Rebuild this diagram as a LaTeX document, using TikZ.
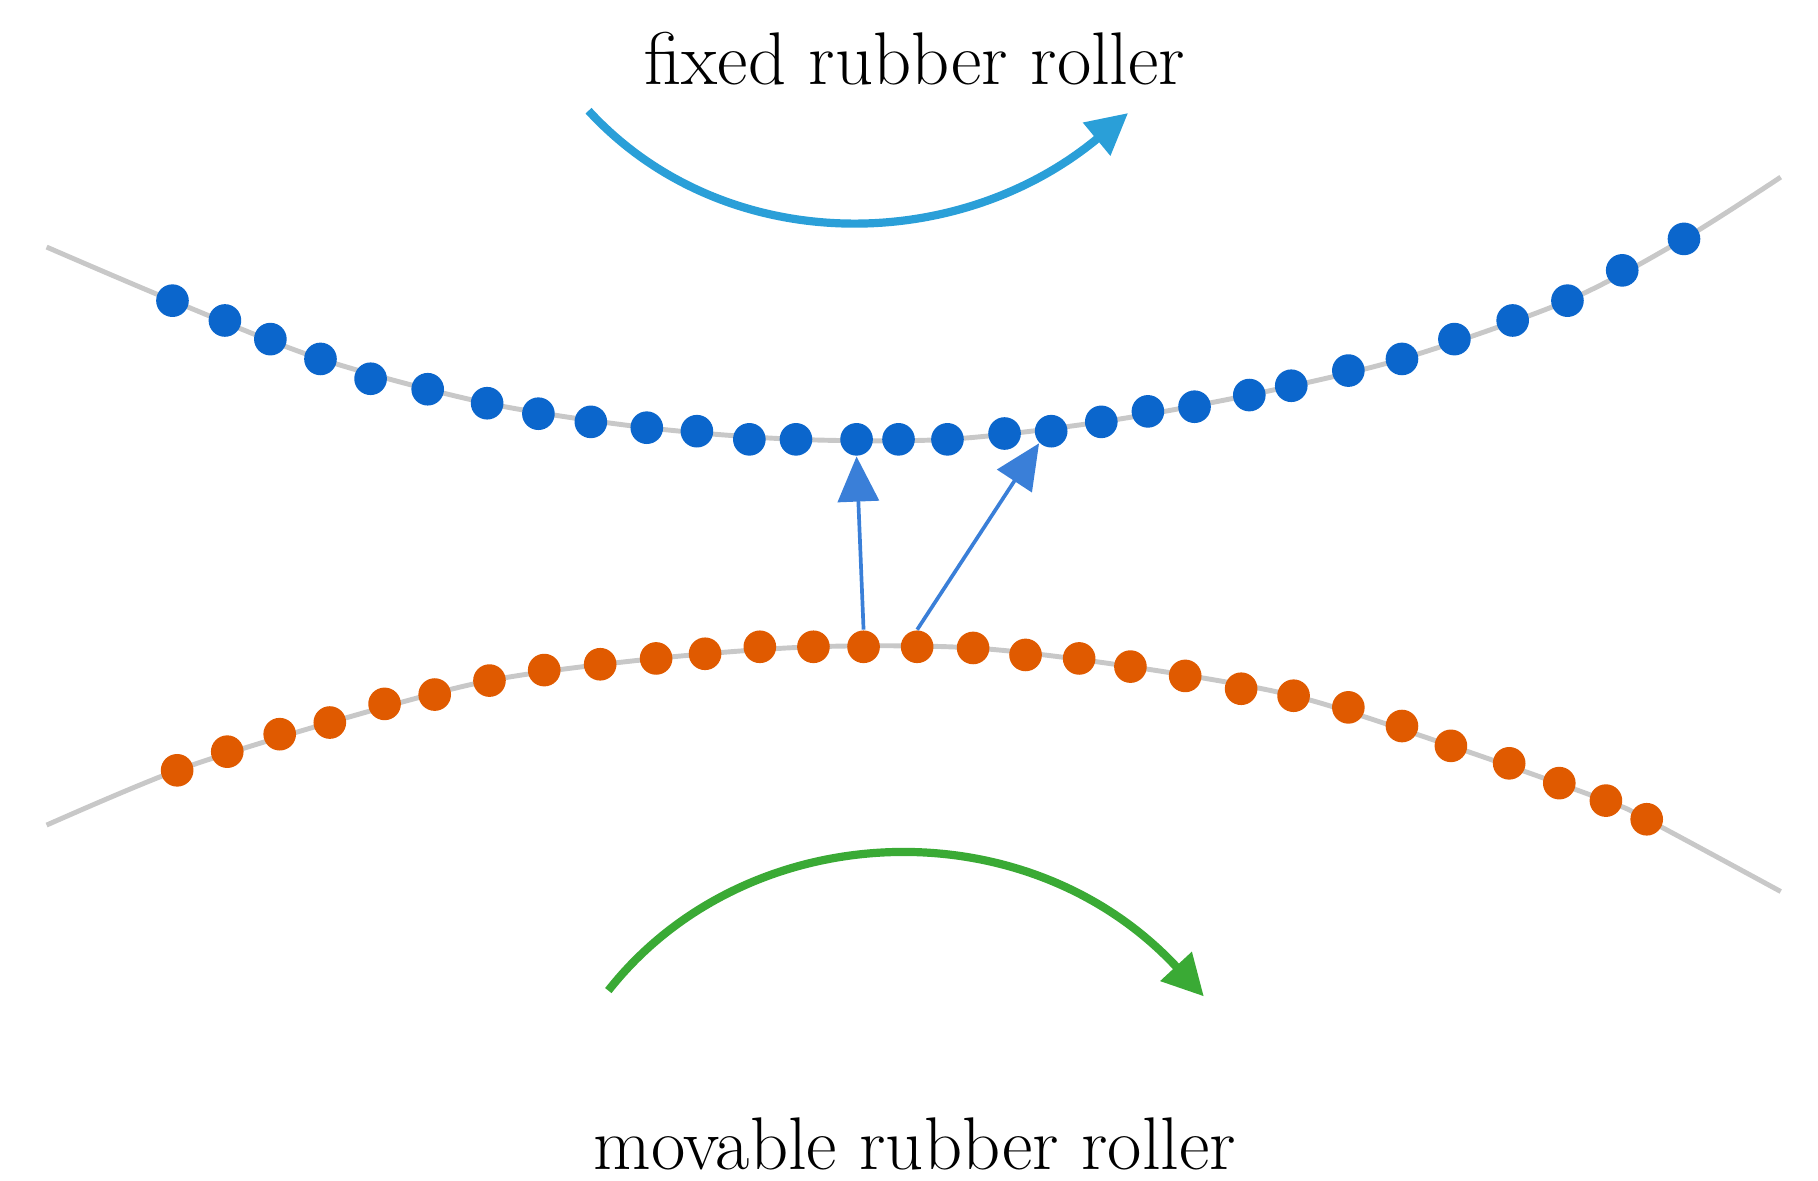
\documentclass[tikz,border=0pt]{standalone}
\usetikzlibrary{arrows.meta}
\definecolor{dblue}{HTML}{0B66CC}
\definecolor{dorange}{HTML}{E05A00}
\definecolor{lgray}{HTML}{C8C8C8}
\definecolor{cyanb}{HTML}{2A9FD8}
\definecolor{gr}{HTML}{3AAA35}
\definecolor{ablue}{HTML}{3A7FD8}
\begin{document}
\begin{tikzpicture}[x=0.01cm,y=-0.01cm,
  dot/.style={circle,inner sep=0pt,minimum size=0.28cm},
  tdot/.style={dot,fill=dblue}, bdot/.style={dot,fill=dorange},
  rim/.style={lgray,line width=1.2pt},
  lab/.style={font=\fontsize{18.2}{22}\selectfont},
  up/.style={ablue,line width=0.9pt,-{Triangle[length=11pt,width=10pt]}},
  rot/.style={line width=2pt,-{Triangle[length=10pt,width=10pt]}}]
\useasboundingbox (0,0) rectangle (1560,1013);
\draw[rim] plot[smooth] coordinates {(40,212) (148,258) (275,308) (418,346) (555,367) (683,377) (813,377) (945,362) (1072,339) (1203,308) (1345,258) (1445,205) (1528,152)};
\draw[rim] plot[smooth] coordinates {(40,708) (152,661) (283,620) (420,584) (563,565) (698,555) (835,556) (970,572) (1110,597) (1245,640) (1378,687) (1413,703) (1528,765)};
\foreach \x/\y [count=\i] in {148/258,193/275,232/291,275/308,318/325,367/334,418/346,462/355,507/362,555/367,598/370,643/377,683/377,735/377,771/377,813/377,862/372,902/370,945/362,985/353,1025/349,1072/339,1108/331,1157/318,1203/308,1248/291,1298/275,1345/258,1392/232,1445/205}
  \node[tdot] (t\i) at (\x,\y) {};
\foreach \x/\y [count=\i] in {152/661,195/645,240/630,283/620,330/604,373/596,420/584,467/575,515/570,563/565,605/561,652/555,698/555,741/555,787/555,835/556,880/562,926/565,970/572,1017/580,1065/591,1110/597,1157/607,1203/623,1245/640,1295/655,1338/672,1378/687,1413/703}
  \node[bdot] (b\i) at (\x,\y) {};
\draw[up] (b14.north) -- (t14.south);
\draw[up] (b15.north) -- (t18.south west);
\coordinate (c1) at (505,95); \coordinate (c2) at (968,97);
\draw[rot,cyanb] (c1) .. controls (620,220) and (820,220) .. (c2);
\coordinate (g1) at (522,850); \coordinate (g2) at (1033,855);
\draw[rot,gr] (g1) .. controls (640,700) and (880,690) .. (g2);
\node[lab] (tt) at (785,50) {fixed rubber roller};
\node[lab] (bt) at (785,982) {movable rubber roller};
\end{tikzpicture}
\end{document}
